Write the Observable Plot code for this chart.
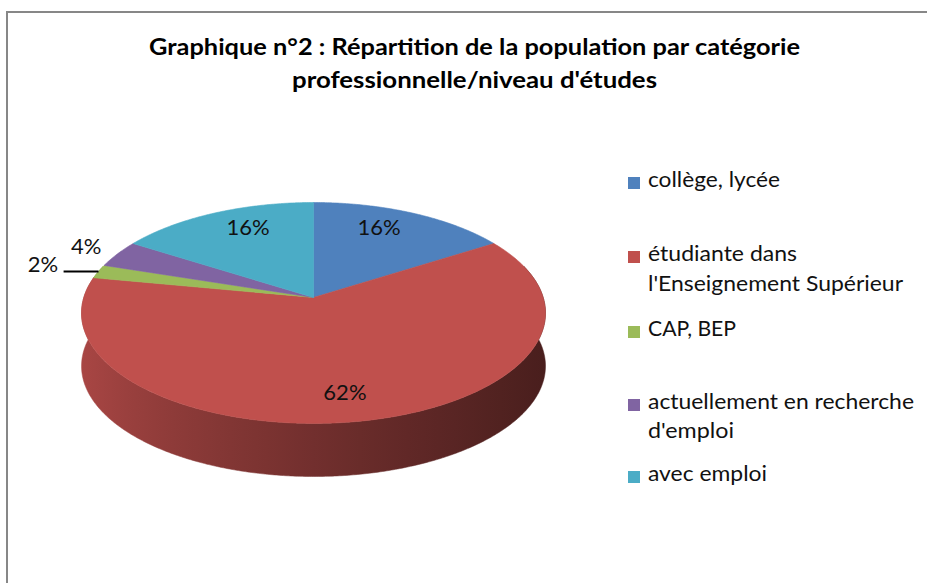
<!DOCTYPE html>
<html><head><meta charset="utf-8">
<script src="https://cdn.jsdelivr.net/npm/d3@7"></script>
<script src="https://cdn.jsdelivr.net/npm/@observablehq/plot@0.6"></script>
<style>
body{margin:0;background:#fff;}
#root{position:relative;width:927px;height:583px;overflow:hidden;background:#fff;font-family:Lato,"Open Sans",sans-serif;color:#000;}
#frame{position:absolute;left:6px;top:11px;width:940px;height:600px;border-top:2px solid #878787;border-left:2px solid #878787;}
.t{position:absolute;white-space:nowrap;transform-origin:0 0;line-height:1.2;}
.title{font-weight:bold;font-size:22px;}
.leg{font-size:21.5px;color:#111;}
.sq{position:absolute;width:12px;height:12px;}
#chart{position:absolute;left:0;top:120px;}
</style></head><body>
<div id="root"><div id="frame"></div><div id="chart"></div></div>
<script>
// ---- data ----
const categories = ["collège, lycée", "étudiante dans l'Enseignement Supérieur", "CAP, BEP", "actuellement en recherche d'emploi", "avec emploi"];
const legendLines = [["collège, lycée"], ["étudiante dans", "l'Enseignement Supérieur"], ["CAP, BEP"], ["actuellement en recherche", "d'emploi"], ["avec emploi"]];
const percents = [16, 62, 2, 4, 16];
const colors = ["#4F81BD", "#C0504D", "#9BBB59", "#8064A2", "#4BACC6"];
const titleLines = ["Graphique n°2 : Répartition de la population par catégorie", "professionnelle/niveau d'études"];

// ---- geometry (perspective-tilted pie) ----
const k = 0.14, depth = 0.49;
const proj = (r, t) => { const X = r * Math.sin(t), Yd = -r * Math.cos(t); const s = 1 / (1 - k * Yd); return [X * s, Yd * s]; };
const arcs = d3.pie().sort(null).value(d => d)(percents);
const slices = arcs.map((a, i) => ({name: categories[i], pct: percents[i], color: colors[i], a0: a.startAngle, a1: a.endAngle}));

// top faces
const topRows = [];
slices.forEach((s, i) => {
  topRows.push({id: "t" + i, x: 0, y: 0, fill: s.color});
  const n = Math.max(2, Math.ceil((s.a1 - s.a0) / (Math.PI / 360)));
  for (let j = 0; j <= n; j++) {
    const [x, y] = proj(1, s.a0 + (s.a1 - s.a0) * j / n);
    topRows.push({id: "t" + i, x, y, fill: s.color});
  }
  topRows.push({id: "t" + i, x: 0, y: 0, fill: s.color});
});

// front side walls (one polygon per slice, shaded by a horizontal gradient)
const frontA0 = Math.acos(0.3), frontA1 = 2 * Math.PI - Math.acos(0.3);
const sideRows = [];
slices.forEach((s, i) => {
  const a0 = Math.max(s.a0, frontA0), a1 = Math.min(s.a1, frontA1);
  if (a1 <= a0) return;
  const n = Math.max(2, Math.ceil((a1 - a0) / (Math.PI / 360)));
  const topArc = [], botArc = [];
  for (let j = 0; j <= n; j++) {
    const [x, y] = proj(1, a0 + (a1 - a0) * j / n);
    topArc.push([x, y]); botArc.push([x, y + depth]);
  }
  const fill = `url(#side${i})`;
  [...topArc, ...botArc.reverse(), topArc[0]].forEach(([x, y]) => sideRows.push({id: "s" + i, x, y, fill}));
});

// labels
const labels = slices.map(s => {
  const mid = (s.a0 + s.a1) / 2;
  if (s.pct >= 10) {
    const [px, py] = proj(0.8, mid);
    return {x: px * 0.8125, y: py, text: s.pct + "%", mid};
  }
  const r = s.pct >= 3 ? 1.17 : 1.27;
  const [px, py] = proj(r, mid);
  return {x: px, y: py, text: s.pct + "%", mid, outside: true};
});
const leaders = slices.map((s, i) => ({s, l: labels[i]})).filter(d => d.s.pct < 3).map(d => {
  const [ex, ey] = proj(1, d.l.mid);
  return {x1: ex, y1: ey, x2: d.l.x + 0.09, y2: ey};
});

// gradient definitions (function mark using Plot's x scale)
function gradients(index, scales) {
  const ns = "http://www.w3.org/2000/svg";
  const defs = document.createElementNS(ns, "defs");
  slices.forEach((s, i) => {
    const g = document.createElementNS(ns, "linearGradient");
    g.setAttribute("id", "side" + i);
    g.setAttribute("gradientUnits", "userSpaceOnUse");
    g.setAttribute("x1", scales.x(-1.02)); g.setAttribute("x2", scales.x(1.02));
    g.setAttribute("y1", 0); g.setAttribute("y2", 0);
    const c = d3.rgb(s.color);
    for (let j = 0; j <= 10; j++) {
      const tt = j / 10, f = 0.88 - 0.5 * Math.pow(tt, 0.8);
      const st = document.createElementNS(ns, "stop");
      st.setAttribute("offset", tt);
      st.setAttribute("stop-color", d3.rgb(c.r * f, c.g * f, c.b * f).formatHex());
      g.appendChild(st);
    }
    defs.appendChild(g);
  });
  return defs;
}

const cx = 313, cy = 177, a = 108.3, b = 229.7;
const chart = Plot.plot({
  width: 600, height: 400, margin: 0,
  style: {background: "transparent"},
  x: {domain: [-1, 1], range: [cx - b, cx + b], axis: null},
  y: {domain: [-1, 1], range: [cy - a, cy + a], axis: null},
  color: {type: "identity"},
  marks: [
    gradients,
    Plot.line(sideRows, {x: "x", y: "y", z: "id", fill: "fill", stroke: "fill", strokeWidth: 0.5, curve: "linear"}),
    Plot.line(topRows, {x: "x", y: "y", z: "id", fill: "fill", stroke: "fill", strokeWidth: 0.6, curve: "linear"}),
    Plot.link(leaders, {x1: "x1", y1: "y1", x2: "x2", y2: "y2", stroke: "#000", strokeWidth: 2}),
    Plot.text(labels, {x: "x", y: "y", text: "text", fontSize: 22, fontFamily: "Lato", fill: "#111"})
  ]
});
document.getElementById("chart").appendChild(chart);

// ---- HTML title & legend ----
const root = document.getElementById("root");
function addText(txt, cls, left, baseline, fontSize, targetW) {
  const el = document.createElement("div");
  el.className = "t " + cls;
  el.textContent = txt;
  el.style.left = left + "px";
  el.style.top = (baseline - fontSize * 1.087) + "px";
  root.appendChild(el);
  if (targetW) { const w = el.getBoundingClientRect().width; el.style.transform = `scaleX(${targetW / w})`; }
  return el;
}
addText(titleLines[0], "title", 149, 58, 22, 651);
addText(titleLines[1], "title", 292, 91, 22, 365);

const legBase = [[190], [264, 294], [339], [412, 441], [484]];
const legW = [[132], [149, 255], [88], [266, 86], [119]];
legendLines.forEach((lines, i) => {
  const sq = document.createElement("div");
  sq.className = "sq";
  sq.style.background = colors[i];
  sq.style.left = "628px";
  sq.style.top = (legBase[i][0] - 13) + "px";
  root.appendChild(sq);
  lines.forEach((ln, j) => addText(ln, "leg", 648, legBase[i][j], 21.5, legW[i][j]));
});
</script>
</body></html>
